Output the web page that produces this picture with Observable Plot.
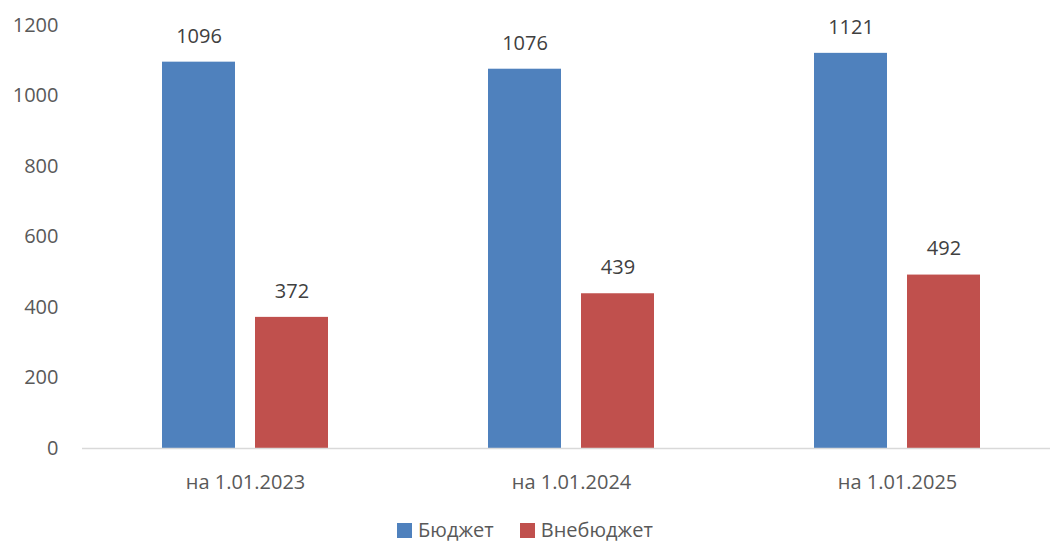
<!DOCTYPE html>
<html>
<head>
<meta charset="utf-8">
<script src="https://cdn.jsdelivr.net/npm/d3@7"></script>
<script src="https://cdn.jsdelivr.net/npm/@observablehq/plot@0.6"></script>
<style>
  html, body { margin: 0; padding: 0; background: #fff; }
  body { width: 1050px; font-family: "Open Sans", sans-serif; }
  #chart svg { display: block; }
  #legend { display: flex; justify-content: center; align-items: center; height: 24px; line-height: 24px; margin-top: 13px; font-size: 20px; color: #595959; }
  #legend .item { display: flex; align-items: center; margin: 0 13px; }
  #legend .sw { width: 15px; height: 15px; margin-right: 6px; display: inline-block; }
</style>
</head>
<body>
<div id="chart"></div>
<div id="legend"></div>
<script>
const categories = ["на 1.01.2023", "на 1.01.2024", "на 1.01.2025"];
const series = ["Бюджет", "Внебюджет"];
const budget = [1096, 1076, 1121];
const offBudget = [372, 439, 492];
const colors = ["#4F81BD", "#C0504D"];
const yTicks = [0, 200, 400, 600, 800, 1000, 1200];

const data = [];
categories.forEach((c, i) => {
  data.push({date: c, series: series[0], value: budget[i]});
  data.push({date: c, series: series[1], value: offBudget[i]});
});

const chart = Plot.plot({
  width: 1050,
  height: 505,
  marginLeft: 82,
  marginRight: -10,
  marginTop: 25,
  marginBottom: 57,
  style: {fontFamily: "Open Sans, sans-serif", fontSize: "20px", background: "#fff"},
  fx: {domain: categories, padding: 0, label: null},
  x: {domain: series, paddingInner: 0.215, paddingOuter: 0.86, axis: null},
  y: {domain: [0, 1200], axis: null},
  color: {domain: series, range: colors},
  marks: [
    Plot.axisY({ticks: yTicks, tickFormat: d => String(d), tickSize: 0, tickPadding: 24, fill: "#595959", fontSize: 20, label: null}),
    Plot.axisFx({anchor: "bottom", tickSize: 0, tickPadding: 26, fill: "#595959", fontSize: 20, label: null}),
    Plot.barY(data, {fx: "date", x: "series", y: "value", fill: "series"}),
    Plot.ruleY([0], {stroke: "#D9D9D9", strokeWidth: 1.5}),
    Plot.text(data, {fx: "date", x: "series", y: "value", text: d => String(d.value), dy: -26, fill: "#404040", fontSize: 20, textAnchor: "middle"})
  ]
});
document.getElementById("chart").appendChild(chart);

const legend = document.getElementById("legend");
series.forEach((s, i) => {
  const item = document.createElement("div");
  item.className = "item";
  const sw = document.createElement("span");
  sw.className = "sw";
  sw.style.background = colors[i];
  item.appendChild(sw);
  item.appendChild(document.createTextNode(s));
  legend.appendChild(item);
});
</script>
</body>
</html>
